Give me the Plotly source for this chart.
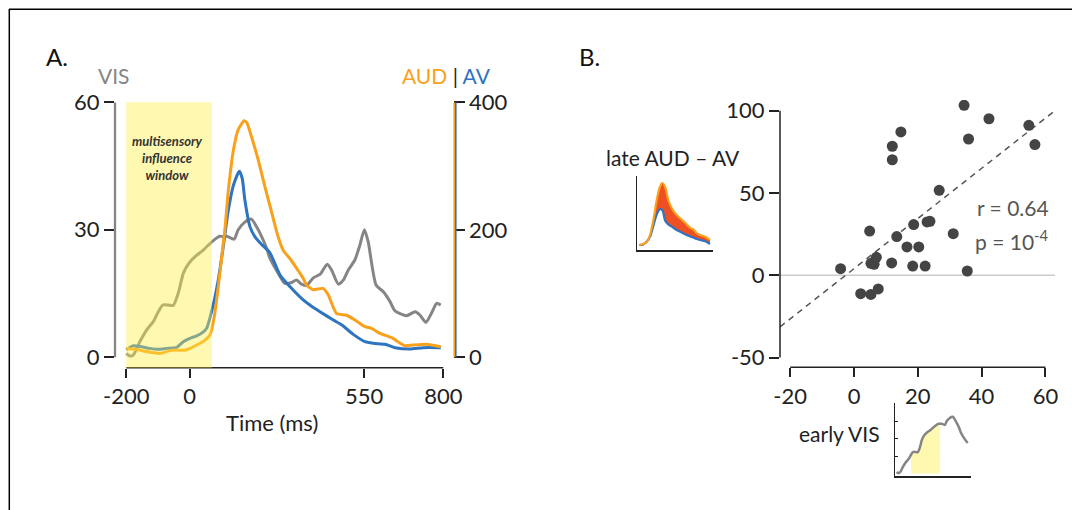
import numpy as np
import plotly.graph_objects as go

W, H = 1080, 510
OFF = 8  # page body margin in the browser
def PX(px): return (px - OFF) / W
def PY(py): return 1 - (py - OFF) / H

FONT = "Lato, 'Open Sans', sans-serif"
ORANGE = "#F9A11B"
BLUE = "#2F74C0"
GREY = "#858585"
DARK = "#222222"
REDFILL = "#F04E23"

# ---------------- Panel A data ----------------
vis_t = [-200, -188, -178, -157, -136, -115, -99, -85, -68, -52, -36, -20, -4, 17, 38, 59, 80, 95,
         106, 117, 140, 153, 174, 195, 211, 227, 243, 253, 279, 300, 322, 337, 353, 369, 390, 411,
         434, 448, 469, 485, 500, 521, 537, 551, 563, 588, 611, 632, 648, 684, 711, 726, 745, 763,
         779, 792]
vis_v = [0.9, 0.3, 0.5, 3.7, 6.4, 8.4, 10.7, 12.3, 12.3, 12.2, 15.1, 19.8, 22.0, 23.7, 24.9, 26.4,
         27.8, 28.5, 28.4, 28.5, 27.8, 30.0, 31.8, 32.5, 30.7, 28.4, 25.6, 23.3, 19.8, 17.4, 17.6,
         18.2, 17.2, 16.9, 18.7, 19.5, 21.9, 20.5, 17.2, 18.2, 20.5, 22.9, 26.4, 30.0, 27.2, 17.0,
         15.4, 13.1, 10.9, 9.8, 10.7, 9.95, 8.2, 10.4, 12.7, 12.3]

aud_t = [-200, -178, -146, -115, -94, -62, -41, -15, 1, 22, 43, 64, 77, 90, 106, 111, 122, 138,
         153, 172, 180, 195, 216, 237, 253, 279, 295, 316, 337, 358, 369, 390, 421, 437, 463, 495,
         521, 553, 574, 600, 637, 679, 705, 747, 792]
aud_v = [14, 13, 10, 7.3, 6, 10.5, 11.5, 11, 14, 19.3, 25, 35, 62, 110, 179, 200, 262, 325, 357,
         371, 368, 346, 310, 268, 238, 189, 168, 155, 140, 124, 113, 106, 108, 98, 69, 66, 58.5,
         48, 45.5, 37.6, 30.8, 18.2, 19.3, 20.4, 16.6]

av_t = [-200, -178, -157, -125, -99, -73, -41, -20, 1, 22, 43, 54, 69, 90, 106, 122, 138, 157,
        166, 174, 190, 206, 227, 253, 285, 316, 358, 379, 411, 453, 480, 516, 553, 579, 616, 648,
        695, 737, 792]
av_v = [12, 18, 17, 14, 12.5, 14, 15.7, 24.6, 29.8, 33.5, 40, 46, 71.5, 121, 174, 231, 270, 292,
        280, 247, 205, 189, 177, 164, 129, 111, 90, 82, 71.5, 58.5, 50.7, 36, 24.5, 22, 20.4,
        15.1, 13, 15.1, 15.1]

window_ms = [-200, 70]
xticks_a = [-200, 0, 550, 800]
yticks_vis = [0, 30, 60]
yticks_aud = [0, 200, 400]

# ---------------- Inset: late AUD - AV ----------------
late_t = [-100, -50, 0, 35, 80, 120, 160, 190, 225, 265, 310, 350, 415, 475, 550, 580, 625, 665,
          730, 790]
late_aud = [6, 7, 9.5, 16, 32, 51, 64, 68, 64, 51, 42.5, 37.7, 32.7, 28.3, 22.7, 21.7, 17.7, 16,
            14.3, 11]
late_av = [6, 6.5, 10, 14.3, 26, 36.5, 41.7, 41, 30.6, 26.6, 24.3, 22, 19.2, 16.8, 14.3, 13.4,
           12, 11, 9.7, 7]

# ---------------- Inset: early VIS ----------------
early_end = 310
early_win = [-100, 115]

# ---------------- Panel B data ----------------
early_vis = [34.5, 42.3, 54.8, 35.9, 56.7, 14.7, 12.0, 12.0, 26.7, 18.7, 22.9, 23.8, 4.9, 13.4,
             31.1, 16.6, 20.3, 7.0, 5.3, 6.3, 11.8, 18.4, 22.3, -4.2, 35.5, 2.1, 5.3, 7.6]
late_diff = [103.3, 95.1, 91.1, 82.8, 79.4, 87.1, 78.4, 70.2, 51.6, 30.8, 32.4, 32.8, 26.9, 23.5,
             25.3, 17.2, 17.2, 10.9, 7.3, 6.7, 7.5, 5.6, 5.6, 4.0, 2.6, -11.2, -11.6, -8.3]
xticks_b = [-20, 0, 20, 40, 60]
yticks_b = [-50, 0, 50, 100]
r_text = "r = 0.64"
p_text = "p = 10<sup>-4</sup>"

fig = go.Figure()

# Panel A traces
fig.add_trace(go.Scatter(x=vis_t, y=vis_v, mode="lines", line=dict(color=GREY, width=3, shape="spline", smoothing=0.6),
                         xaxis="x", yaxis="y", hoverinfo="skip"))
fig.add_trace(go.Scatter(x=av_t, y=av_v, mode="lines", line=dict(color=BLUE, width=3, shape="spline", smoothing=0.6),
                         xaxis="x", yaxis="y2", hoverinfo="skip"))
fig.add_trace(go.Scatter(x=aud_t, y=aud_v, mode="lines", line=dict(color=ORANGE, width=3, shape="spline", smoothing=0.6),
                         xaxis="x", yaxis="y2", hoverinfo="skip"))

# Inset late
fig.add_trace(go.Scatter(x=late_t, y=late_av, mode="lines", line=dict(color=BLUE, width=2.2, shape="spline"),
                         xaxis="x4", yaxis="y4", hoverinfo="skip"))
fig.add_trace(go.Scatter(x=late_t, y=late_aud, mode="lines", line=dict(color=ORANGE, width=2.2, shape="spline"),
                         fill="tonexty", fillcolor=REDFILL, xaxis="x4", yaxis="y4", hoverinfo="skip"))

# Inset early VIS
et = [t for t in vis_t if t <= early_end]
ev = [v for t, v in zip(vis_t, vis_v) if t <= early_end]
wt = [t for t in vis_t if early_win[0] <= t <= early_win[1]]
wv = [v for t, v in zip(vis_t, vis_v) if early_win[0] <= t <= early_win[1]]
fig.add_trace(go.Scatter(x=wt, y=wv, mode="lines", line=dict(width=0, shape="spline"), fill="tozeroy",
                         fillcolor="#FFF8B0", xaxis="x5", yaxis="y5", hoverinfo="skip"))
fig.add_trace(go.Scatter(x=et, y=ev, mode="lines", line=dict(color=GREY, width=2.5, shape="spline"),
                         xaxis="x5", yaxis="y5", hoverinfo="skip"))

# Panel B
slope, icpt = np.polyfit(early_vis, late_diff, 1)
bx_range = [-23.2, 63.0]
fig.add_trace(go.Scatter(x=bx_range, y=[slope * bx_range[0] + icpt, slope * bx_range[1] + icpt],
                         mode="lines", line=dict(color="#555555", width=1.5, dash="6px,5px"),
                         xaxis="x3", yaxis="y3", hoverinfo="skip"))
fig.add_trace(go.Scatter(x=early_vis, y=late_diff, mode="markers",
                         marker=dict(color="#444444", size=11, line=dict(width=0)),
                         xaxis="x3", yaxis="y3", hoverinfo="skip"))

tickfont = dict(family=FONT, size=22, color=DARK)
common = dict(showgrid=False, zeroline=False, showline=False, ticks="outside", tickcolor=DARK,
              tickwidth=1.5, tickfont=tickfont, automargin=False)
plain = dict(showgrid=False, zeroline=False, showline=True, linecolor=DARK, showticklabels=False,
             automargin=False)

def lbl(v): return [str(x) for x in v]

fig.update_layout(
    template="none",
    width=W, height=H, autosize=False,
    margin=dict(l=0, r=0, t=0, b=0, pad=0, autoexpand=False),
    paper_bgcolor="white", plot_bgcolor="rgba(0,0,0,0)",
    showlegend=False,
    font=dict(family=FONT, color=DARK),
    xaxis=dict(domain=[PX(115), PX(452.7)], range=[-235.6, 829.7], tickvals=xticks_a,
               ticktext=lbl(xticks_a), ticklen=9, anchor="y", **common),
    yaxis=dict(domain=[PY(367.7), PY(102.3)], range=[-2.45, 60], tickvals=yticks_vis,
               ticktext=lbl(yticks_vis), ticklen=10, anchor="x", **common),
    yaxis2=dict(domain=[PY(367.7), PY(102.3)], range=[-16.3, 400], tickvals=yticks_aud,
                ticktext=lbl(yticks_aud), ticklen=11, overlaying="y", side="right", anchor="x",
                **common),
    xaxis3=dict(domain=[PX(780), PX(1055)], range=bx_range, tickvals=xticks_b,
                ticktext=lbl(xticks_b), ticklen=9, anchor="y3", **common),
    yaxis3=dict(domain=[PY(367.3), PY(100)], range=[-55.9, 106.5], tickvals=yticks_b,
                ticktext=lbl(yticks_b), ticklen=10, anchor="x3", **common),
    xaxis4=dict(domain=[PX(637.3), PX(713.3)], range=[-125, 832], linewidth=1.5, ticks="",
                anchor="y4", **plain),
    yaxis4=dict(domain=[PY(250), PY(176)], range=[1, 75], linewidth=1.2, ticks="",
                anchor="x4", **plain),
    xaxis5=dict(domain=[PX(895), PX(971)], range=[-212, 324], linewidth=1.5, ticks="",
                anchor="y5", **plain),
    yaxis5=dict(domain=[PY(476), PY(402.7)], range=[-1.43, 40.5], linewidth=1.2,
                ticks="inside", ticklen=3, tickcolor=DARK, tickwidth=1, tickvals=[10, 20, 30],
                anchor="x5", **plain),
)

shapes = [
    # frame
    dict(type="line", xref="paper", yref="paper", x0=PX(9), x1=1, y0=PY(9.3), y1=PY(9.3),
         line=dict(color="black", width=1.5)),
    dict(type="line", xref="paper", yref="paper", x0=PX(9.3), x1=PX(9.3), y0=PY(9), y1=0,
         line=dict(color="black", width=1.5)),
    # Panel A axes lines
    dict(type="line", xref="x", yref="y domain", x0=xticks_a[0], x1=xticks_a[-1], y0=0, y1=0,
         line=dict(color=DARK, width=1.5)),
    dict(type="line", xref="x domain", yref="y", x0=0, x1=0, y0=yticks_vis[0], y1=yticks_vis[-1],
         line=dict(color=GREY, width=2.3)),
    dict(type="line", xref="paper", yref="y2", x0=PX(454.2), x1=PX(454.2), y0=yticks_aud[0],
         y1=yticks_aud[-1], line=dict(color=ORANGE, width=1.6)),
    dict(type="line", xref="paper", yref="y2", x0=PX(455.8), x1=PX(455.8), y0=yticks_aud[0],
         y1=yticks_aud[-1], line=dict(color=BLUE, width=1.6)),
    # multisensory window
    dict(type="rect", xref="x", yref="y domain", x0=window_ms[0], x1=window_ms[1], y0=0, y1=1,
         fillcolor="rgba(255,238,70,0.42)", line=dict(width=0), layer="above"),
    # Panel B axes lines
    dict(type="line", xref="x3", yref="y3 domain", x0=xticks_b[0], x1=xticks_b[-1], y0=0, y1=0,
         line=dict(color=DARK, width=1.5)),
    dict(type="line", xref="x3 domain", yref="y3", x0=0, x1=0, y0=yticks_b[0], y1=yticks_b[-1],
         line=dict(color=DARK, width=1.5)),
    dict(type="line", xref="x3 domain", yref="y3", x0=0, x1=1, y0=0, y1=0,
         line=dict(color="#CCCCCC", width=1.5), layer="below"),
]
fig.update_layout(shapes=shapes)

def ann(text, px, py, size, color=DARK, xanchor="center", **kw):
    fig.add_annotation(text=text, x=PX(px), y=PY(py), xref="paper", yref="paper",
                       showarrow=False, xanchor=xanchor, yanchor="middle",
                       font=dict(family=FONT, size=size, color=color), **kw)

ann("A.", 57, 57, 24, "#111111")
ann("B.", 589, 57, 24, "#111111")
ann("VIS", 114, 76, 21, GREY)
ann(f"<span style='color:{ORANGE}'>AUD</span> | <span style='color:{BLUE}'>AV</span>", 493, 76, 21,
    DARK, xanchor="right")
ann("Time (ms)", 272, 422, 22)
ann("<b><i>multisensory<br>influence<br>window</i></b>", 167, 158, 13, "#333333")
ann("late AUD – AV", 672.5, 157, 21)
ann("early VIS", 839, 433, 21)
ann(r_text, 1013, 208, 21, "#555555")
ann(p_text, 1012, 240, 21, "#555555")

fig.write_html("out.html")
